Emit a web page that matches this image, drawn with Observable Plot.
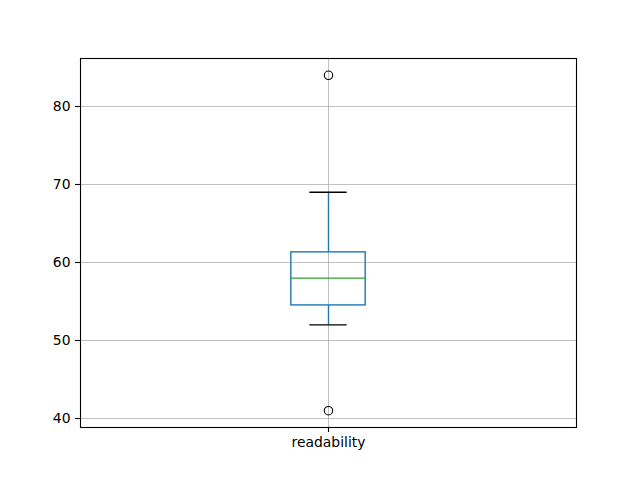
<!DOCTYPE html>
<html>
<head>
<meta charset="utf-8">
<script src="https://cdn.jsdelivr.net/npm/d3@7"></script>
<script src="https://cdn.jsdelivr.net/npm/@observablehq/plot@0.6"></script>
<style>
  html, body { margin: 0; padding: 0; background: #ffffff; }
  #chart { width: 640px; height: 480px; }
</style>
</head>
<body>
<div id="chart"></div>
<script>
// ---- data ----
const categories = ["readability"];
const q1Values = [54.5];
const medianValues = [58];
const q3Values = [61.3];
const whiskerLowValues = [52];
const whiskerHighValues = [69];
const outlierValues = [[84, 41]];
const yTickValues = [40, 50, 60, 70, 80];

// ---- tables built from the arrays ----
const boxes = categories.map((name, i) => ({
  pos: i + 1,
  name,
  q1: q1Values[i],
  median: medianValues[i],
  q3: q3Values[i],
  lo: whiskerLowValues[i],
  hi: whiskerHighValues[i]
}));
const fliers = categories.flatMap((name, i) =>
  outlierValues[i].map(v => ({pos: i + 1, name, value: v}))
);

const boxHalf = 0.075;
const capHalf = 0.0375;
const blue = "#1f77b4";
const green = "#2ca02c";
const lw = 1.4;

const chart = Plot.plot({
  width: 640,
  height: 480,
  marginLeft: 80,
  marginRight: 64,
  marginTop: 58,
  marginBottom: 53,
  style: {
    fontFamily: "'DejaVu Sans', sans-serif",
    fontSize: "13.9px",
    color: "black",
    background: "white"
  },
  x: {type: "linear", domain: [0.5, categories.length + 0.5]},
  y: {domain: [38.85, 86.15]},
  marks: [
    Plot.gridY(yTickValues, {stroke: "#b0b0b0", strokeOpacity: 1, strokeWidth: 0.8}),
    Plot.gridX(boxes.map(d => d.pos), {stroke: "#b0b0b0", strokeOpacity: 1, strokeWidth: 0.8}),
    Plot.ruleX(boxes, {x: "pos", y1: "lo", y2: "q1", stroke: blue, strokeWidth: lw}),
    Plot.ruleX(boxes, {x: "pos", y1: "q3", y2: "hi", stroke: blue, strokeWidth: lw}),
    Plot.rect(boxes, {
      x1: d => d.pos - boxHalf, x2: d => d.pos + boxHalf,
      y1: "q1", y2: "q3",
      fill: "none", stroke: blue, strokeWidth: lw
    }),
    Plot.ruleY(boxes, {y: "median", x1: d => d.pos - boxHalf, x2: d => d.pos + boxHalf, stroke: green, strokeWidth: lw}),
    Plot.ruleY(boxes, {y: "lo", x1: d => d.pos - capHalf, x2: d => d.pos + capHalf, stroke: "black", strokeWidth: lw}),
    Plot.ruleY(boxes, {y: "hi", x1: d => d.pos - capHalf, x2: d => d.pos + capHalf, stroke: "black", strokeWidth: lw}),
    Plot.dot(fliers, {x: "pos", y: "value", r: 4.2, stroke: "black", fill: "none", strokeWidth: 1.1}),
    Plot.frame({stroke: "black", strokeWidth: 1.1}),
    Plot.axisY({
      ticks: yTickValues,
      tickSize: 5,
      tickPadding: 5,
      tickFormat: d => String(d),
      label: null,
      stroke: "black",
      strokeWidth: 1.1,
      fill: "black"
    }),
    Plot.axisX({
      ticks: boxes.map(d => d.pos),
      tickSize: 5,
      tickPadding: 5,
      tickFormat: d => categories[d - 1],
      label: null,
      stroke: "black",
      strokeWidth: 1.1,
      fill: "black"
    })
  ]
});

document.getElementById("chart").appendChild(chart);
</script>
</body>
</html>
